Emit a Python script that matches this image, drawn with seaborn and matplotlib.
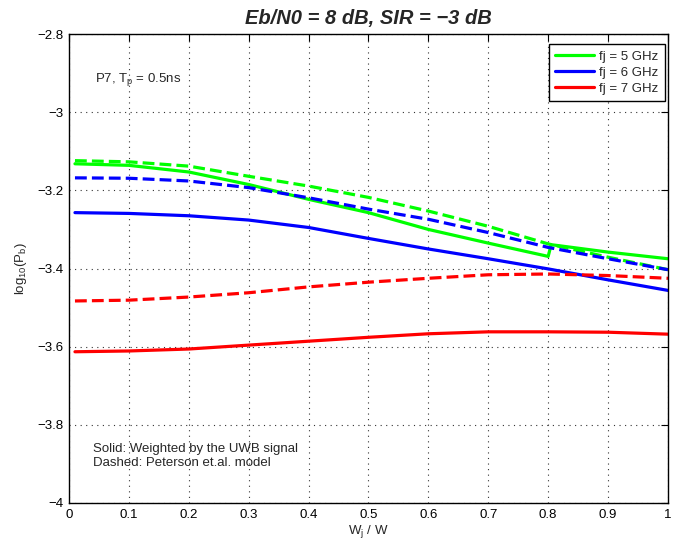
import matplotlib
matplotlib.use("Agg")
import matplotlib.pyplot as plt
import seaborn as sns
import numpy as np
import pandas as pd

# x axis: W_j / W
wj = [0.01, 0.1, 0.2, 0.3, 0.4, 0.5, 0.6, 0.7, 0.8, 0.9, 1.0]
# green solid has a jump just after 0.8
wj_g = [0.01, 0.1, 0.2, 0.3, 0.4, 0.5, 0.6, 0.7, 0.8, 0.805, 0.9, 1.0]

# solid: weighted by the UWB signal
f5_solid = [-3.132, -3.136, -3.153, -3.185, -3.223, -3.257, -3.300, -3.335, -3.369, -3.339, -3.358, -3.375]
f6_solid = [-3.257, -3.259, -3.265, -3.276, -3.295, -3.323, -3.350, -3.375, -3.401, -3.429, -3.456]
f7_solid = [-3.613, -3.611, -3.606, -3.596, -3.586, -3.576, -3.567, -3.562, -3.562, -3.563, -3.568]

# dashed: Peterson et.al. model
f5_dash = [-3.124, -3.127, -3.138, -3.164, -3.189, -3.218, -3.253, -3.292, -3.337, -3.371, -3.403]
f6_dash = [-3.168, -3.169, -3.176, -3.193, -3.219, -3.248, -3.274, -3.308, -3.346, -3.375, -3.403]
f7_dash = [-3.483, -3.481, -3.473, -3.462, -3.447, -3.435, -3.425, -3.416, -3.414, -3.418, -3.425]

labels = ['fj = 5 GHz', 'fj = 6 GHz', 'fj = 7 GHz']
colors = ['#00ff00', '#0000ff', '#ff0000']

sns.set_style("white")
plt.rcParams['font.family'] = ['Liberation Sans', 'DejaVu Sans']
plt.rcParams['mathtext.fontset'] = 'custom'
plt.rcParams['mathtext.rm'] = 'Liberation Sans'
plt.rcParams['mathtext.it'] = 'Liberation Sans'

fig = plt.figure(figsize=(6.87, 5.49), dpi=100)
ax = fig.add_axes([0.1004, 0.0838, 0.8719, 0.8542])

lw = 2.3
solids = [(wj_g, f5_solid), (wj, f6_solid), (wj, f7_solid)]
for (xs, ys), lab, c in zip(solids, labels, colors):
    sns.lineplot(x=xs, y=ys, ax=ax, color=c, lw=lw, label=lab, sort=False)
for ys, c in zip([f5_dash, f6_dash, f7_dash], colors):
    sns.lineplot(x=wj, y=ys, ax=ax, color=c, lw=lw, ls='--', sort=False)

ax.set_xlim(0, 1)
ax.set_ylim(-4, -2.8)
ax.set_xticks(np.arange(0, 1.01, 0.1))
ax.set_xticklabels(['0', '0.1', '0.2', '0.3', '0.4', '0.5', '0.6', '0.7', '0.8', '0.9', '1'])
ax.set_yticks([-4, -3.8, -3.6, -3.4, -3.2, -3, -2.8])
ax.set_yticklabels(['\u22124', '\u22123.8', '\u22123.6', '\u22123.4', '\u22123.2', '\u22123', '\u22122.8'])
ax.tick_params(direction='in', length=5, width=0.8, labelsize=9.5, top=True, right=True,
               colors='black', pad=4)
ax.grid(True, ls=(0, (1, 4)), color='#333333', lw=0.8)
for s in ax.spines.values():
    s.set_color('black')
    s.set_linewidth(1.0)

ax.set_title('Eb/N0 = 8 dB, SIR = \u22123 dB', fontsize=14.5, fontweight='bold',
             fontstyle='italic', pad=7)
ax.set_xlabel('W$_\\mathrm{j}$ / W', fontsize=9.5, labelpad=2)
ax.set_ylabel('log$_{10}$(P$_\\mathrm{b}$)', fontsize=9.5, labelpad=6)

ax.text(0.043, -2.923, 'P7, T$_\\mathrm{p}$ = 0.5ns', fontsize=9.5)
ax.text(0.04, -3.861, 'Solid: Weighted by the UWB signal', fontsize=9.5, va='center')
ax.text(0.04, -3.897, 'Dashed: Peterson et.al. model', fontsize=9.5, va='center')

leg = ax.legend(loc='upper right', fontsize=9.5, frameon=True, fancybox=False,
                edgecolor='black', framealpha=1, handlelength=3.0,
                borderaxespad=0.25, labelspacing=0.3, handletextpad=0.4,
                borderpad=0.45, bbox_to_anchor=(1.0, 0.985))
leg.get_frame().set_linewidth(1.0)

fig.savefig('out.png', dpi=100)
